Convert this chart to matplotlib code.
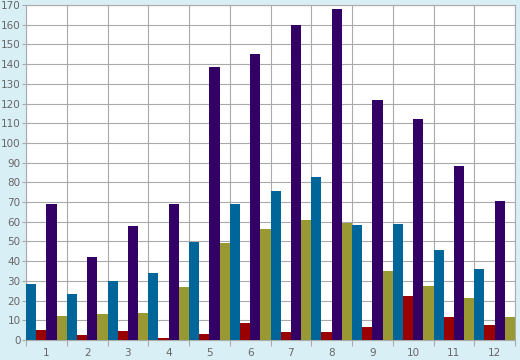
import numpy as np
import matplotlib
matplotlib.use("Agg")
import matplotlib.pyplot as plt
from matplotlib.ticker import MultipleLocator, FixedLocator

groups = ["1", "2", "3", "4", "5", "6", "7", "8", "9", "10", "11", "12"]
blue = [28.4, 23.4, 30, 34, 49.7, 69, 75.6, 82.7, 58.4, 58.9, 45.7, 36]
red = [5.1, 2.5, 4.6, 1, 3, 8.6, 4, 4, 6.6, 22.3, 11.7, 7.6]
purple = [69, 42.1, 57.9, 69, 138.6, 145.2, 159.9, 168, 121.8, 112.2, 88.3, 70.6]
olive = [12.2, 13.2, 13.7, 27, 49.2, 56.3, 60.9, 59.4, 35, 27.4, 21.3, 11.7]

series = [blue, red, purple, olive]
colors = ["#006699", "#990000", "#330066", "#999933"]

bg = "#d9eff6"
grid_c = "#aaaaaa"
text_c = "#666666"

fig = plt.figure(figsize=(5.2, 3.6), dpi=100, facecolor=bg)
ax = fig.add_axes([26 / 520, 20 / 360, 489 / 520, 335 / 360])
ax.set_facecolor("white")

x = np.arange(len(groups))
w = 0.25
for i, (vals, c) in enumerate(zip(series, colors)):
    ax.bar(x + (i - 1.5) * w, vals, width=w, color=c, zorder=3, linewidth=0)

ax.set_xlim(-0.5, len(groups) - 0.5)
ax.set_ylim(0, 170)
ax.yaxis.set_major_locator(MultipleLocator(10))

# labels at group centres, ticks and grid on group boundaries
ax.set_xticks(x)
ax.set_xticklabels(groups)
ax.xaxis.set_minor_locator(FixedLocator(np.arange(-0.5, len(groups), 1)))
ax.tick_params(axis="x", which="major", length=0, pad=6, labelsize=7.5, labelcolor=text_c)
ax.tick_params(axis="x", which="minor", length=4, width=0.8, color=grid_c)
ax.tick_params(axis="y", length=3, width=0.8, color=grid_c, pad=1, labelsize=7.5, labelcolor=text_c)

ax.grid(True, axis="y", which="major", color=grid_c, linewidth=0.8, zorder=0)
ax.grid(True, axis="x", which="minor", color=grid_c, linewidth=0.8, zorder=0)

for s in ax.spines.values():
    s.set_color(grid_c)
    s.set_linewidth(0.8)

fig.savefig("out.png", dpi=100, facecolor=bg)
